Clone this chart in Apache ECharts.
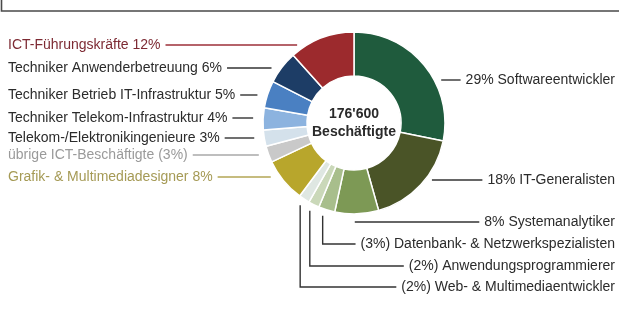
<!DOCTYPE html>
<html><head><meta charset="utf-8">
<script src="https://cdn.jsdelivr.net/npm/echarts@6/dist/echarts.min.js"></script>
<style>html,body{margin:0;padding:0;background:#fff}#c{width:619px;height:315px}</style>
</head><body><div id="c"></div>
<script>
// ---- data ----
const categories = ['Softwareentwickler','IT-Generalisten','Systemanalytiker','Datenbank- & Netzwerkspezialisten','Anwendungsprogrammierer','Web- & Multimediaentwickler','Grafik- & Multimediadesigner','übrige ICT-Beschäftigte','Telekom-/Elektronikingenieure','Techniker Telekom-Infrastruktur','Techniker Betrieb IT-Infrastruktur','Techniker Anwenderbetreuung','ICT-Führungskräfte'];
const shares = [29,18,8,3,2,2,8,3,3,4,5,6,12];
const totalLines = ["176'600", 'Beschäftigte'];
// label text pattern: pre = "29% Name", preP = "(3%) Name", post = "Name 8%", postP = "Name (3%)"
const labelPattern = ['pre','pre','pre','preP','preP','preP','post','postP','post','post','post','post','post'];

// ---- styles / layout ----
const colors = ['#1f5b3d','#4a5427','#7d9955','#a8be8c','#cad8b9','#dfe7e2','#b8a62c','#c9c9c9','#d4e1eb','#8cb3df','#4a80c2','#1d3d66','#9c2a2d'];
const textColors = ['#2b2b2b','#2b2b2b','#2b2b2b','#2b2b2b','#2b2b2b','#2b2b2b','#a59a55','#9a9a9a','#2b2b2b','#2b2b2b','#2b2b2b','#2b2b2b','#7d2a33'];
const lineColors = ['#333','#333','#333','#333','#333','#333','#b3a654','#a8a8a8','#333','#333','#333','#333','#9c2f38'];
const labelY = [80,180,222,244,266,287,177,155,138,118,95,68,45];
const lineKind = ['straight','straight','below','elbow','elbow','elbow','straight','straight','straight','straight','straight','straight','straight'];
const CX = 354, CY = 123, R_IN = 47, R_OUT = 91;
const LEFT_X = 8, RIGHT_X = 615;
const centerFont = 'bold 14px "Liberation Sans", Arial, sans-serif';

function labelText(i){
  const v = shares[i], n = categories[i];
  switch(labelPattern[i]){
    case 'pre': return v + '% ' + n;
    case 'preP': return '(' + v + '%) ' + n;
    case 'post': return n + ' ' + v + '%';
    default: return n + ' (' + v + '%)';
  }
}
const total = shares.reduce((a,b)=>a+b,0);
function midEdge(i){
  let before = 0; for (let k=0;k<i;k++) before += shares[k];
  const a = (before + shares[i]/2)/total*2*Math.PI;
  return [CX + R_OUT*Math.sin(a), CY - R_OUT*Math.cos(a)];
}

const chart = echarts.init(document.getElementById('c'));
chart.setOption({
  animation:false,
  backgroundColor:'#fff',
  graphic:[
    {type:'rect', shape:{x:1.5, y:-10, width:640, height:21}, style:{fill:'none', stroke:'#4a4a4a', lineWidth:1.6}, silent:true},
    {type:'text', x:CX, y:CY-9, style:{text:totalLines[0], align:'center', verticalAlign:'middle', font:centerFont, fill:'#2a2a2a'}, silent:true},
    {type:'text', x:CX, y:CY+9, style:{text:totalLines[1], align:'center', verticalAlign:'middle', font:centerFont, fill:'#2a2a2a'}, silent:true}
  ],
  series:[{
    type:'pie',
    center:[CX, CY],
    radius:[R_IN, R_OUT],
    startAngle:90,
    clockwise:true,
    avoidLabelOverlap:false,
    itemStyle:{borderColor:'#fff', borderWidth:1.5},
    label:{show:true, position:'outside', fontSize:14, fontFamily:'"Liberation Sans", Arial, sans-serif',
      formatter:(p)=>labelText(p.dataIndex)},
    labelLine:{show:true, length:10, length2:10, lineStyle:{width:1.4}},
    labelLayout:function(p){
      const i = p.dataIndex;
      const y = labelY[i];
      const w = p.labelRect.width;
      let x, pts;
      if (i <= 5) {
        x = RIGHT_X - w;
        const lineEnd = x - 5;
        if (lineKind[i] === 'elbow') {
          const e = midEdge(i);
          pts = [[e[0]-4, e[1]+6],[e[0]-4, y],[lineEnd, y]];
        } else if (lineKind[i] === 'below') {
          const e = midEdge(i);
          pts = [[e[0]-2, y],[lineEnd, y]];
        } else {
          const dx = Math.sqrt(Math.max(0, R_OUT*R_OUT - (y-CY)*(y-CY)));
          pts = [[CX + dx + 7, y],[lineEnd, y]];
        }
      } else {
        x = LEFT_X;
        const lineStart = x + w + 5;
        const dx = Math.sqrt(Math.max(0, R_OUT*R_OUT - (y-CY)*(y-CY)));
        pts = [[lineStart, y],[CX - dx - 10, y]];
      }
      return {x:x, y:y, align:'left', verticalAlign:'middle', labelLinePoints:pts, hideOverlap:false};
    },
    data: shares.map((v,i)=>({
      name:categories[i], value:v,
      itemStyle:{color:colors[i]},
      label:{color:textColors[i]},
      labelLine:{lineStyle:{color:lineColors[i]}}
    }))
  }]
});
</script>
</body></html>
